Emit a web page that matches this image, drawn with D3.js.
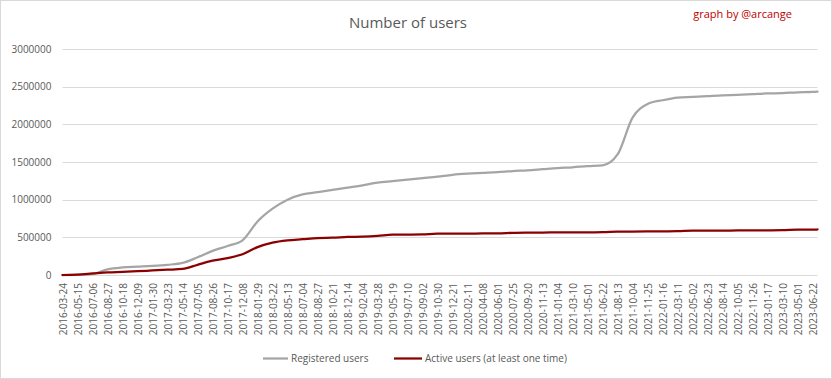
<!DOCTYPE html>
<html>
<head>
<meta charset="utf-8">
<script src="https://cdn.jsdelivr.net/npm/d3@7"></script>
<style>
  html, body { margin: 0; padding: 0; background: #fff; }
  svg { display: block; }
</style>
</head>
<body>
<svg id="chart" width="832" height="379"></svg>
<script>
// ---- data ----
const labelDates = [
  "2016-03-24","2016-05-15","2016-07-06","2016-08-27","2016-10-18","2016-12-09",
  "2017-01-30","2017-03-23","2017-05-14","2017-07-05","2017-08-26","2017-10-17","2017-12-08",
  "2018-01-29","2018-03-22","2018-05-13","2018-07-04","2018-08-27","2018-10-21","2018-12-14",
  "2019-02-04","2019-03-28","2019-05-19","2019-07-10","2019-09-02","2019-10-30","2019-12-21",
  "2020-02-11","2020-04-08","2020-06-01","2020-07-25","2020-09-20","2020-11-13",
  "2021-01-04","2021-03-10","2021-05-01","2021-06-22","2021-08-13","2021-10-04","2021-11-25",
  "2022-01-16","2022-03-11","2022-05-02","2022-06-23","2022-08-14","2022-10-05","2022-11-26",
  "2023-01-17","2023-03-10","2023-05-01","2023-06-22"
];
const lastDate = "2023-07-09";          // last data row (unlabelled)
const rowsPerLabel = 52;                 // one label every 52 data rows
const lastRow = 2617;                    // index of the last data row

const registered = [
  0, 2000, 13000, 75000, 100000, 110000,
  120000, 135000, 160000, 235000, 320000, 385000, 460000,
  710000, 880000, 1000000, 1070000, 1100000, 1130000, 1160000,
  1190000, 1225000, 1245000, 1265000, 1285000, 1305000, 1330000,
  1345000, 1355000, 1365000, 1380000, 1390000, 1405000,
  1420000, 1430000, 1445000, 1455000, 1600000, 2090000, 2270000,
  2320000, 2355000, 2365000, 2375000, 2385000, 2390000, 2400000,
  2410000, 2415000, 2425000, 2430000,
  2435000
];
const active = [
  0, 5000, 20000, 35000, 42000, 50000,
  60000, 70000, 80000, 135000, 190000, 225000, 275000,
  370000, 430000, 460000, 475000, 490000, 495000, 505000,
  510000, 520000, 535000, 537000, 540000, 548000, 549000,
  550000, 551000, 552000, 560000, 563000, 564000,
  565000, 566000, 567000, 568000, 575000, 576000, 578000,
  580000, 582000, 588000, 589000, 590000, 591000, 592000,
  593000, 595000, 602000, 603000,
  604000
];
const yTicks = [0, 500000, 1000000, 1500000, 2000000, 2500000, 3000000];
const seriesNames = ["Registered users", "Active users (at least one time)"];
const seriesColors = ["#A5A5A5", "#8B0000"];

// ---- layout ----
const W = 832, H = 379;
const plot = { left: 62.5, right: 817.5, top: 49, bottom: 275 };
const font = "'Open Sans', 'DejaVu Sans', sans-serif";
const textGray = "#595959";

const svg = d3.select("#chart");

// outer border
svg.append("rect")
  .attr("x", 0.5).attr("y", 0.5).attr("width", W - 1).attr("height", H - 1)
  .attr("fill", "#fff").attr("stroke", "#D9D9D9");

const dates = labelDates.concat([lastDate]);
const rows = dates.map((d, i) => i < labelDates.length ? i * rowsPerLabel : lastRow);

const x = d3.scaleLinear().domain([0, lastRow]).range([plot.left, plot.right]);
const y = d3.scaleLinear().domain([0, 3000000]).range([plot.bottom, plot.top]);

// gridlines
svg.append("g")
  .selectAll("line")
  .data(yTicks)
  .join("line")
  .attr("x1", plot.left).attr("x2", plot.right)
  .attr("y1", d => Math.round(y(d)) + 0.5).attr("y2", d => Math.round(y(d)) + 0.5)
  .attr("stroke", "#D9D9D9").attr("stroke-width", 1);

// y axis
const yAxis = d3.axisLeft(y).tickValues(yTicks).tickSize(0).tickPadding(0).tickFormat(d3.format("d"));
const gy = svg.append("g").attr("transform", `translate(${plot.left - 11},0)`).call(yAxis);
gy.select(".domain").remove();
gy.selectAll("text")
  .attr("fill", textGray).style("font-family", font).style("font-size", "10px");

// x axis
const labelRows = rows.slice(0, labelDates.length);
const xAxis = d3.axisBottom(x).tickValues(labelRows).tickSize(0).tickPadding(0)
  .tickFormat((d, i) => labelDates[i]);
const gx = svg.append("g").attr("transform", `translate(0,${plot.bottom})`).call(xAxis);
gx.select(".domain").remove();
gx.selectAll("text")
  .attr("fill", textGray).style("font-family", font).style("font-size", "10px")
  .attr("text-anchor", "end")
  .attr("transform", "rotate(-90)")
  .attr("x", -8).attr("y", 0).attr("dy", "0.35em");

// lines
const line = d3.line()
  .x((d, i) => x(rows[i]))
  .y(d => y(d))
  .curve(d3.curveMonotoneX);

[registered, active].forEach((s, k) => {
  svg.append("path")
    .datum(s)
    .attr("fill", "none")
    .attr("stroke", seriesColors[k])
    .attr("stroke-width", 2.25)
    .attr("stroke-linejoin", "round")
    .attr("stroke-linecap", "round")
    .attr("d", line);
});

// title
svg.append("text")
  .attr("x", 408).attr("y", 28)
  .attr("text-anchor", "middle")
  .attr("fill", textGray)
  .style("font-family", font).style("font-size", "15px")
  .text("Number of users");

// credit
svg.append("text")
  .attr("x", 792).attr("y", 18)
  .attr("text-anchor", "end")
  .attr("fill", "#C00000")
  .style("font-family", font).style("font-size", "11px")
  .text("graph by @arcange");

// legend
const legend = [
  { x1: 263, x2: 288, tx: 291 },
  { x1: 394, x2: 422, tx: 425 }
];
legend.forEach((l, k) => {
  svg.append("line")
    .attr("x1", l.x1).attr("x2", l.x2).attr("y1", 358.5).attr("y2", 358.5)
    .attr("stroke", seriesColors[k]).attr("stroke-width", 2.25);
  svg.append("text")
    .attr("x", l.tx).attr("y", 358.5).attr("dy", "0.35em")
    .attr("fill", textGray)
    .style("font-family", font).style("font-size", "10px")
    .text(seriesNames[k]);
});
</script>
</body>
</html>
